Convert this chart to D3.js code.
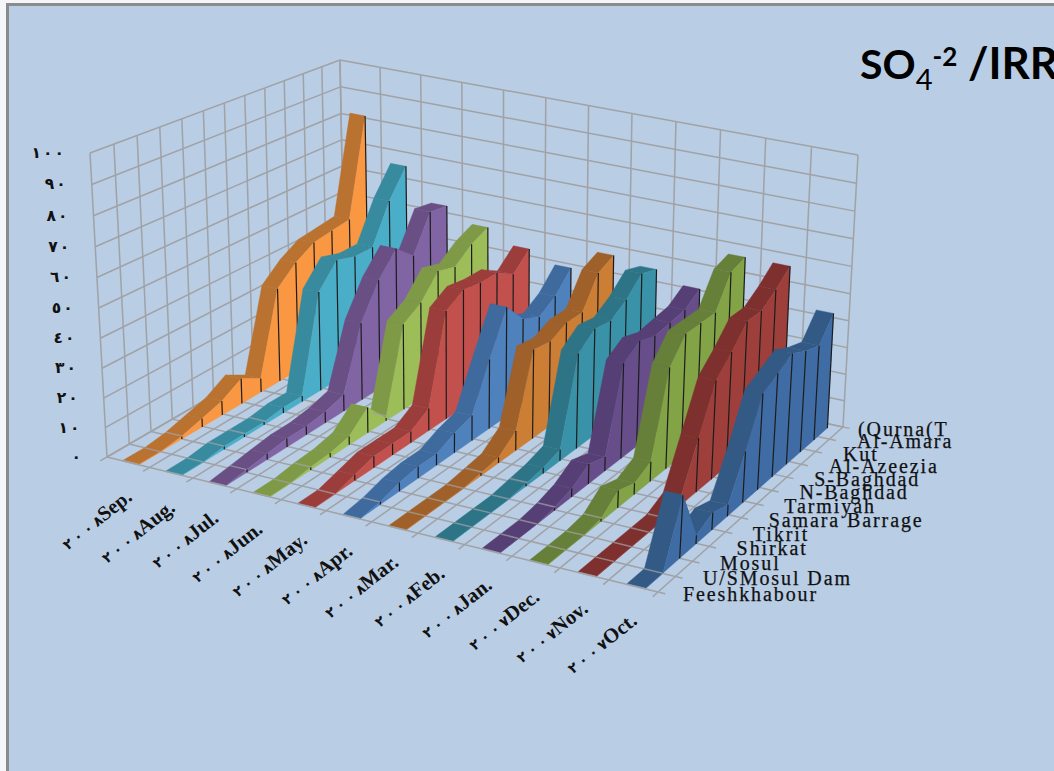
<!DOCTYPE html>
<html>
<meta charset="utf-8">
<style>
html, body { margin: 0; padding: 0; background: #f4f6f9; overflow: hidden; }
svg { display: block; }
.grid { stroke: #a0a2a5; stroke-width: 1.5; fill: none; }
.station { font-family: "Liberation Serif", serif; font-size: 20px; letter-spacing: 1.9px; fill: #111; stroke: #111; stroke-width: 0.25; }
.month { font-family: "Liberation Serif", "DejaVu Sans", serif; font-size: 20.5px; font-weight: bold; fill: #111; unicode-bidi: bidi-override; direction: ltr; }
.value { font-family: "DejaVu Sans", sans-serif; font-size: 15.5px; font-weight: bold; fill: #111; unicode-bidi: bidi-override; direction: ltr; }
.title { font-family: Lato, sans-serif; font-weight: bold; fill: #000; }
</style>
<body>
<div id="container"></div>
<script src="https://d3js.org/d3.v7.min.js"></script>
<script>
    let totalWidth = 1054, totalHeight = 771;

    let stations = ["Feeshkhabour", "U/SMosul Dam", "Mosul", "Shirkat", "Tikrit", "Samara Barrage", "Tarmiyah", "N-Baghdad", "S-Baghdad", "Al-Azeezia", "Kut", "Al-Amara", "(Qurna(T"];
    let monthYears = ["٢٠٠٨", "٢٠٠٨", "٢٠٠٨", "٢٠٠٨", "٢٠٠٨", "٢٠٠٨", "٢٠٠٨", "٢٠٠٨", "٢٠٠٨", "٢٠٠٧", "٢٠٠٧", "٢٠٠٧"];
    let monthNames = ["Sep.", "Aug.", "Jul.", "Jun.", "May.", "Apr.", "Mar.", "Feb.", "Jan.", "Dec.", "Nov.", "Oct."];
    let valueTicks = [0, 10, 20, 30, 40, 50, 60, 70, 80, 90, 100];
    let valueLabels = ["٠", "١٠", "٢٠", "٣٠", "٤٠", "٥٠", "٦٠", "٧٠", "٨٠", "٩٠", "١٠٠"];

    // one list per month, front station first
    let sep = [0, 0, 1, 3, 5, 9, 5, 34, 40, 44, 45, 46, 82];
    let aug = [0, 0, 1, 1, 1, 2, 2, 36, 44, 42, 42, 56, 66];
    let jul = [0, 1, 2, 3, 3, 4, 6, 28, 40, 48, 42, 55, 54];
    let jun = [0, 0, 1, 1.5, 3, 9, 1, 31, 35, 43, 41, 46, 49];
    let may = [0, 0, 2, 4, 4, 4, 8, 39, 43, 42, 42, 38, 44];
    let apr = [0, 1, 3, 4, 4, 7, 9, 25, 40, 32, 29, 33, 40];
    let mar = [0, 0, 0, 0, 1, 2, 7, 32, 31, 34, 34, 45, 48];
    let feb = [0, 0, 0, 0, 1, 2, 4, 34, 39, 38, 42, 48, 46];
    let jan = [0, 0, 0, 1, 3, 7, 5, 34, 38, 36, 37, 38, 42];
    let dec = [0, 0, 0, 1, 6, 4, 7, 36, 44, 44, 44, 55, 57];
    let nov = [0, 0, 0, 0, 0, 3, 19, 35, 41, 48, 48, 52, 57];
    let oct = [0, 0, 21, 3, 6, 4, 18, 34, 37, 40, 37, 35, 43];
    let seriesValues = [sep, aug, jul, jun, may, apr, mar, feb, jan, dec, nov, oct];

    let sideColors = ["#f99743", "#4baec8", "#8064a4", "#9dbd59", "#c2504c", "#4f81bd", "#cc7e35", "#3a92a8", "#674e8a", "#82a346", "#9e3f3c", "#3f6ca4"];
    let topColors = ["#ba7230", "#388a9f", "#6a4f85", "#7f9a47", "#9b3d3b", "#3f6a9e", "#9f6129", "#2d7487", "#563f74", "#667f39", "#7e302e", "#335a85"];

    // corners of the plot box on screen: front-left, front-right, back-right, back-left
    let floorCorners = [[107, 457], [658, 592], [843, 427], [345, 319]];
    let topCorners = [[90, 153], [675, 274], [858, 155], [340, 60]];

    // unit square -> quad
    function squareToQuad(q) {
        let [x0, y0] = q[0], [x1, y1] = q[1], [x2, y2] = q[2], [x3, y3] = q[3];
        let dx1 = x1 - x2, dx2 = x3 - x2, sx = x0 - x1 + x2 - x3;
        let dy1 = y1 - y2, dy2 = y3 - y2, sy = y0 - y1 + y2 - y3;
        let det = dx1 * dy2 - dx2 * dy1;
        let g = (sx * dy2 - dx2 * sy) / det, h = (dx1 * sy - sx * dy1) / det;
        let a = x1 - x0 + g * x1, b = x3 - x0 + h * x3;
        let d = y1 - y0 + g * y1, e = y3 - y0 + h * y3;
        return function (u, w) {
            let n = g * u + h * w + 1;
            return [(a * u + b * w + x0) / n, (d * u + e * w + y0) / n];
        };
    }

    let floorAt = squareToQuad(floorCorners), topAt = squareToQuad(topCorners);

    let uScale = d3.scaleLinear().domain([0, 12]).range([0, 1]);
    let wScale = d3.scalePoint().domain(stations).range([0, 1]);
    let ribbonW = d3.scalePoint().domain(stations).range([0.004, 0.975]);
    let vScale = d3.scaleLinear().domain([0, 100]).range([0, 1]);

    // u across the months, w front to back, value up
    function project(u, w, value) {
        let f = floorAt(u, w), t = topAt(u, w);
        let v = vScale(value), rho = 1.04;
        let s = v / (v + (1 - v) * rho);
        return [f[0] + (t[0] - f[0]) * s, f[1] + (t[1] - f[1]) * s];
    }

    // letter-spacing is ignored on these digits, so each one gets its own tspan
    function spacedDigits(text, digits, gap, size) {
        Array.from(digits).forEach((c, i) => {
            text.append("tspan").attr("font-size", size).attr("dx", i ? gap : 0).text(c);
        });
    }

    let poly = d3.line();
    let svg = d3.select("#container").append("svg").attr("width", totalWidth).attr("height", totalHeight);

    // chart area
    svg.append("rect").attr("x", 7.5).attr("y", 4.5).attr("width", totalWidth).attr("height", totalHeight)
        .attr("fill", "#b9cde5").attr("stroke", "#8b8b8b").attr("stroke-width", 3);

    // walls and floor
    let grid = svg.append("g").attr("class", "grid");
    function gridLine(a, b) {
        grid.append("path").attr("d", poly([a, b]));
    }
    let uSteps = d3.range(13).map(uScale);
    let wSteps = stations.map(s => wScale(s));
    valueTicks.forEach(v => {
        gridLine(project(0, 0, v), project(0, 1, v));
        gridLine(project(0, 1, v), project(1, 1, v));
    });
    wSteps.forEach(w => {
        gridLine(project(0, w, 0), project(0, w, 100));
        gridLine(project(0, w, 0), project(1.012, w, 0));
    });
    uSteps.forEach(u => {
        gridLine(project(u, 1, 0), project(u, 1, 100));
        gridLine(project(u, 1, 0), project(u, -0.025, 0));
    });

    // ribbons, far month first and far station first within a month
    let inset = [0.36, 0.74];
    let rw = stations.map(s => ribbonW(s));
    seriesValues.forEach((values, m) => {
        let g = svg.append("g");
        let u0 = uScale(m + inset[0]), u1 = uScale(m + inset[1]);
        for (let j = stations.length - 2; j >= 0; j--) {
            let wa = rw[j], wb = rw[j + 1];
            g.append("path").attr("fill", topColors[m]).attr("stroke", topColors[m]).attr("stroke-width", 0.4)
                .attr("d", poly([project(u0, wa, values[j]), project(u1, wa, values[j]), project(u1, wb, values[j + 1]), project(u0, wb, values[j + 1])]) + "Z");
            g.append("path").attr("fill", sideColors[m]).attr("stroke", sideColors[m]).attr("stroke-width", 0.4)
                .attr("d", poly([project(u1, wa, 0), project(u1, wa, values[j]), project(u1, wb, values[j + 1]), project(u1, wb, 0)]) + "Z");
            g.append("path").attr("stroke", "#1c1c1c").attr("stroke-width", 1.2)
                .attr("d", poly([project(u1, wb, 0), project(u1, wb, values[j + 1])]));
        }
        // floor lines show through where the ribbon lies flat
        values.forEach((val, j) => {
            if (val <= 1)
                g.append("path").attr("class", "grid").attr("stroke-opacity", 0.7)
                    .attr("d", poly([project(u0, wSteps[j], val), project(u1, wSteps[j], val)]));
        });
    });

    // value labels
    valueTicks.forEach((d, i) => {
        let p = project(0, 0, d);
        let t = svg.append("text").attr("class", "value").attr("text-anchor", "end")
            .attr("x", p[0] - 26).attr("y", p[1] + 5);
        spacedDigits(t, valueLabels[i], 2, 15.5);
    });

    // month labels
    monthNames.forEach((name, i) => {
        let p = project(uScale(i + 0.5), 0, 0);
        let t = svg.append("text").attr("class", "month").attr("text-anchor", "end")
            .attr("transform", "translate(" + (p[0] + 5) + "," + (p[1] + 37) + ") rotate(-38)");
        spacedDigits(t, monthYears[i], 4, 14);
        t.append("tspan").text(name);
    });

    // station labels
    stations.forEach((name, j) => {
        let p = project(1, wSteps[j], 0);
        let dx = j == 0 ? 25 : j == stations.length - 1 ? 15 : 27.5;
        svg.append("text").attr("class", "station")
            .attr("x", p[0] + dx)
            .attr("y", p[1] + 9)
            .text(name);
    });

    // heading
    let title = svg.append("text").attr("class", "title").attr("x", 860).attr("y", 79).attr("font-size", 41);
    title.append("tspan").text("SO");
    title.append("tspan").attr("dy", 11).attr("font-size", 29).attr("font-weight", "normal").text("4");
    title.append("tspan").attr("dy", -24).attr("font-size", 26).text("-2");
    title.append("tspan").attr("dy", 13).attr("font-size", 44).text(" /IRR");
</script>
</body>
</html>
